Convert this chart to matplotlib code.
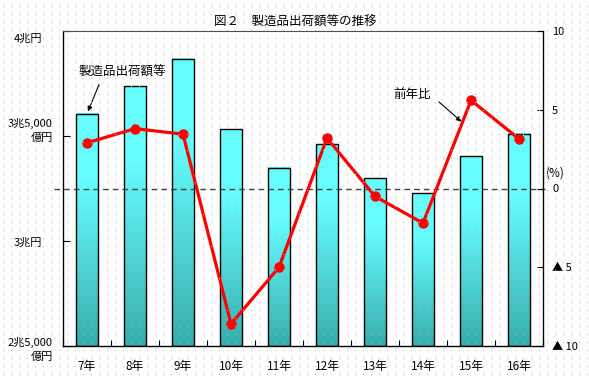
import numpy as np
import matplotlib
matplotlib.use("Agg")
import matplotlib.pyplot as plt
from matplotlib.transforms import blended_transform_factory

plt.rcParams['font.family'] = ['Noto Sans CJK JP', 'DejaVu Sans']

# ---- data ----
years = ['7年', '8年', '9年', '10年', '11年', '12年', '13年', '14年', '15年', '16年']
shipments = [36050, 37380, 38670, 35320, 33490, 34600, 32980, 32270, 34030, 35100]  # 億円
yoy = [2.9, 3.8, 3.45, -8.6, -5.0, 3.2, -0.5, -2.2, 5.6, 3.15]  # %
left_ticks = [25000, 30000, 35000, 40000]
left_labels = ['2兆5,000\n億円', '3兆円', '3兆5,000\n億円', '4兆円']
right_ticks = [-10, -5, 0, 5, 10]
right_labels = ['▲ 10', '▲ 5', '0', '5', '10']
title = '図２　製造品出荷額等の推移'

W, H, DPI = 589, 379, 100
fig = plt.figure(figsize=(W / DPI, H / DPI), dpi=DPI, facecolor='white')

# dotted background texture
bg = np.zeros((H, W, 4))
bg[6::8, 3::8, :3] = 0.72
bg[6::8, 3::8, 3] = 1.0
fig.figimage(bg, xo=0, yo=0, origin='upper', zorder=0)

ax = fig.add_axes([63 / W, 1 - 346 / H, 480 / W, 315 / H])
ax.set_facecolor('none')
ax2 = ax.twinx()

x = np.arange(len(years))
ax.set_xlim(-0.5, len(years) - 0.5)
ax.set_ylim(25000, 40000)
ax2.set_ylim(-10, 10)

# gradient bars
top_c = np.array([0.40, 1.0, 1.0])
bot_c = np.array([0.22, 0.68, 0.68])
n = 200
t = np.linspace(0, 1, n)
f = np.clip((t - 0.28) / 0.72, 0, 1)
grad = (top_c[None, :] * (1 - f[:, None]) + bot_c[None, :] * f[:, None])[:, None, :]
bw = 0.45
for xi, v in zip(x, shipments):
    ax.imshow(grad, extent=[xi - bw / 2, xi + bw / 2, 25000, v], aspect='auto',
              origin='upper', zorder=2, interpolation='bilinear')
ax.bar(x, [v - 25000 for v in shipments], bottom=25000, width=bw,
       facecolor='none', edgecolor='black', linewidth=1.0, zorder=3)
ax.set_xlim(-0.5, len(years) - 0.5)
ax.set_ylim(25000, 40000)

# zero dashed line
tr = blended_transform_factory(ax2.transAxes, ax2.transData)
ax2.plot([-0.019, 1.004], [0, 0], transform=tr, color='#404040', lw=1.0,
         linestyle=(0, (4, 3)), clip_on=False, zorder=1)

# yoy line
ax2.plot(x, yoy, color='#FF0000', lw=2.3, marker='o', ms=6.5, zorder=5)

# axes styling
ax.set_xticks(x)
ax.set_xticklabels(years, fontsize=8.5)
ax.set_xticks(np.arange(-0.5, len(years)), minor=True)
ax.tick_params(axis='x', which='major', length=0, pad=10)
ax.tick_params(axis='x', which='minor', direction='in', length=4, width=0.8)
ax.set_yticks(left_ticks)
ax.set_yticklabels([])
ax.tick_params(axis='y', direction='in', length=5, width=0.8)

ax2.set_yticks(right_ticks)
ax2.set_yticklabels(right_labels, fontsize=8)
ax2.tick_params(axis='y', direction='in', length=4, width=0.8, pad=6.5)
for lab in ax2.get_yticklabels():
    lab.set_horizontalalignment('left')

for s in ['left', 'bottom']:
    ax.spines[s].set_linewidth(1.0)
ax.spines['right'].set_visible(False)
ax.spines['top'].set_color('#505050')
ax.spines['top'].set_linestyle((0, (1, 1)))
ax2.spines['left'].set_visible(False)
ax2.spines['bottom'].set_visible(False)
ax2.spines['top'].set_visible(False)
ax2.spines['right'].set_linewidth(1.0)

# left labels (custom placement; offsets in pixels, positive = down)
ltr = blended_transform_factory(fig.transFigure, ax.transData)
left_x = [53, 42, 53, 42]
left_dpx = [3.5, 2, -6, 8]
for tk, lab, lx, dpx in zip(left_ticks, left_labels, left_x, left_dpx):
    ax.text(lx / W, tk - dpx * 5000 / 105, lab, transform=ltr,
            ha='right', va='center', fontsize=8, multialignment='right',
            linespacing=1.45)

ax2.text(1.005, 1.0, '(%)', transform=tr, ha='left', va='center', fontsize=8.5)

# annotations
ax.text(0.73, 38050, '製造品出荷額等', fontsize=9, ha='center', va='center')
ax.annotate('', xy=(0.02, shipments[0] + 120), xytext=(0.25, 37450),
            arrowprops=dict(arrowstyle='-|>', color='black', lw=0.8,
                            mutation_scale=7, shrinkA=0, shrinkB=0))
ax2.text(6.77, 5.95, '前年比', fontsize=9, ha='center', va='center')
ax2.annotate('', xy=(7.8, 4.25), xytext=(7.33, 5.5),
             arrowprops=dict(arrowstyle='-|>', color='black', lw=0.8,
                             mutation_scale=7, shrinkA=0, shrinkB=0))

fig.text(295 / W, 1 - 22 / H, title, ha='center', va='center', fontsize=9)

fig.savefig('out.png', dpi=DPI, facecolor='white')
